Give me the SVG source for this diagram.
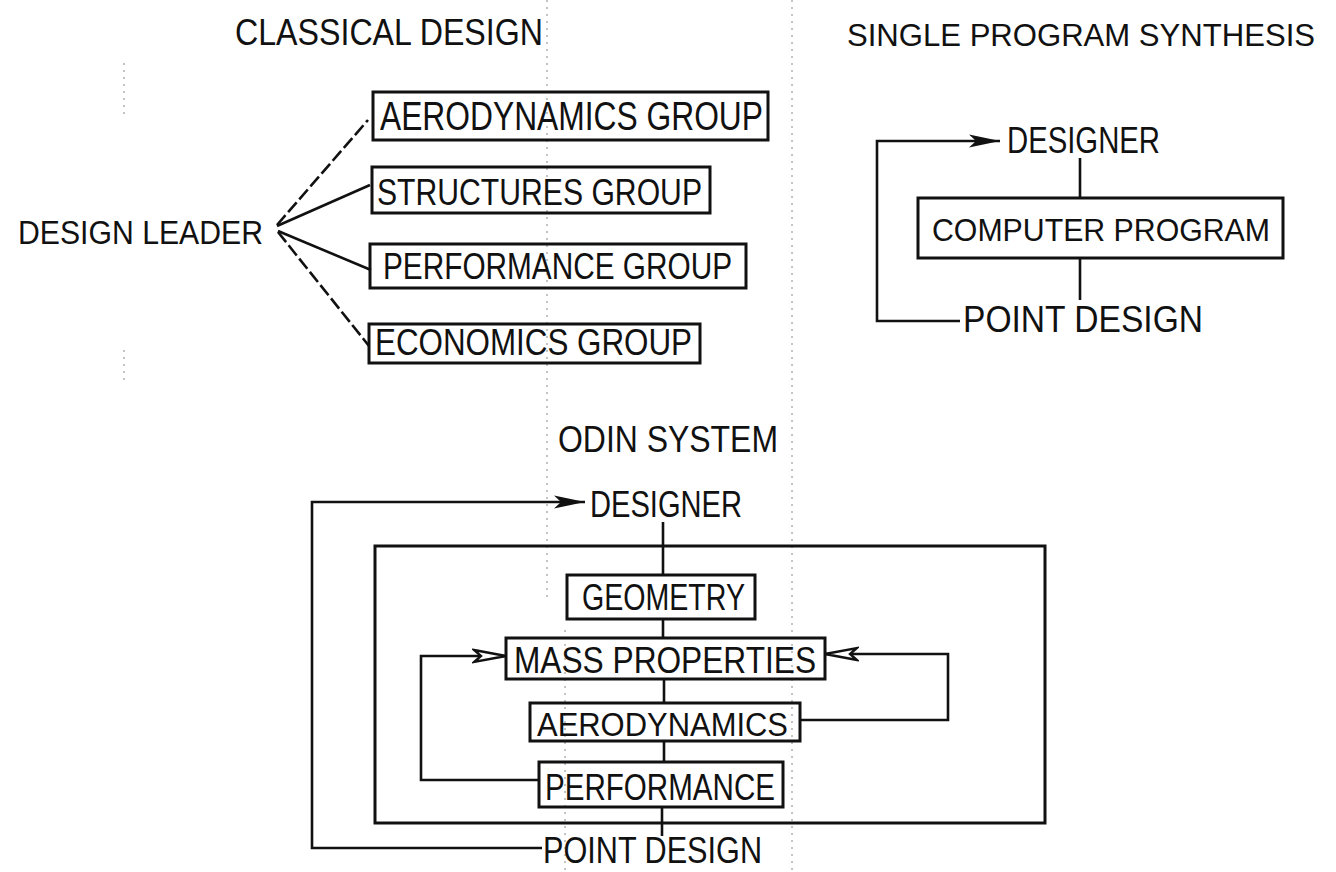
<svg xmlns="http://www.w3.org/2000/svg" width="1336" height="872" viewBox="0 0 1336 872">
<style>
  text { font-family: "Liberation Sans", "DejaVu Sans", Arial, sans-serif; fill: #111; }
  .lbl { font-size: 37px; }
  .sm { font-size: 34px; }
  .box { fill: none; stroke: #111; stroke-width: 3; }
  .ln { fill: none; stroke: #111; stroke-width: 2.6; }
  .dash { stroke-dasharray: 13 4; }
  .scan { fill: none; stroke: #888; stroke-width: 1; stroke-dasharray: 2 5; }
</style>
<defs>
  <marker id="arrowFill" markerUnits="userSpaceOnUse" markerWidth="36" markerHeight="16" refX="32" refY="8" orient="auto">
    <path d="M1,1.5 L32,8 L1,14.5 L8,8 Z" fill="#111"/>
  </marker>
  <marker id="arrowOpen" markerUnits="userSpaceOnUse" markerWidth="38" markerHeight="16" refX="34" refY="8" orient="auto">
    <path d="M2,2 L34,8 L2,14 L9,8 Z" fill="#fff" stroke="#111" stroke-width="2.4"/>
  </marker>
</defs>
<rect width="1336" height="872" fill="#fff"/>

<g id="scan-marks">
  <line class="scan" x1="547" y1="0" x2="547" y2="600"/>
  <line class="scan" x1="565" y1="630" x2="565" y2="872"/>
  <line class="scan" x1="792" y1="0" x2="792" y2="870"/>
  <line class="scan" x1="124" y1="63" x2="124" y2="117"/>
  <line class="scan" x1="124" y1="350" x2="124" y2="380"/>
</g>

<g id="titles">
  <text class="lbl" x="235" y="45" textLength="308" lengthAdjust="spacingAndGlyphs">CLASSICAL DESIGN</text>
  <text x="847" y="46" font-size="32" textLength="468" lengthAdjust="spacingAndGlyphs">SINGLE PROGRAM SYNTHESIS</text>
  <text class="lbl" x="558" y="452" textLength="220" lengthAdjust="spacingAndGlyphs">ODIN SYSTEM</text>
</g>

<g id="connectors">
  <path class="ln dash" d="M277,225 L368,120"/>
  <path class="ln" d="M277,226 L370,185"/>
  <path class="ln" d="M278,231 L371,270"/>
  <path class="ln dash" d="M278,232 L369,346"/>

  <path class="ln" d="M960,321 H877 V141 H1000" marker-end="url(#arrowFill)"/>
  <path class="ln" d="M1080,158 V198"/>
  <path class="ln" d="M1080,258 V300"/>

  <path class="ln" d="M542,848 H312 V502 H585" marker-end="url(#arrowFill)"/>
  <path class="ln" d="M663,522 V575"/>
  <path class="ln" d="M663,619 V638"/>
  <path class="ln" d="M664,679 V703"/>
  <path class="ln" d="M664,741 V762"/>
  <path class="ln" d="M662,807 V836"/>
  <path class="ln" d="M539,780 H421 V656 H506" marker-end="url(#arrowOpen)"/>
  <path class="ln" d="M800,720 H948 V654 H825" marker-end="url(#arrowOpen)"/>
</g>

<g id="design-leader">
  <text class="sm" x="18" y="244" textLength="245" lengthAdjust="spacingAndGlyphs">DESIGN LEADER</text>
</g>
<g id="aerodynamics-group">
  <rect class="box" x="373" y="92" width="395" height="48"/>
  <text x="380" y="130" font-size="40" textLength="383" lengthAdjust="spacingAndGlyphs">AERODYNAMICS GROUP</text>
</g>
<g id="structures-group">
  <rect class="box" x="372" y="167" width="338" height="46"/>
  <text class="lbl" x="377" y="205" textLength="325" lengthAdjust="spacingAndGlyphs">STRUCTURES GROUP</text>
</g>
<g id="performance-group">
  <rect class="box" x="370" y="244" width="376" height="44"/>
  <text class="lbl" x="383" y="279" textLength="349" lengthAdjust="spacingAndGlyphs">PERFORMANCE GROUP</text>
</g>
<g id="economics-group">
  <rect class="box" x="369" y="324" width="331" height="39"/>
  <text class="lbl" x="375" y="355" textLength="317" lengthAdjust="spacingAndGlyphs">ECONOMICS GROUP</text>
</g>

<g id="sps-designer">
  <text class="lbl" x="1007" y="153" textLength="153" lengthAdjust="spacingAndGlyphs">DESIGNER</text>
</g>
<g id="computer-program">
  <rect class="box" x="918" y="198" width="365" height="60"/>
  <text x="932" y="241" font-size="31" textLength="338" lengthAdjust="spacingAndGlyphs">COMPUTER PROGRAM</text>
</g>
<g id="sps-point-design">
  <text class="lbl" x="963" y="332" textLength="240" lengthAdjust="spacingAndGlyphs">POINT DESIGN</text>
</g>

<g id="odin-designer">
  <text class="lbl" x="590" y="517" textLength="152" lengthAdjust="spacingAndGlyphs">DESIGNER</text>
</g>
<g id="odin-system-box">
  <rect class="box" x="375" y="546" width="670" height="277"/>
</g>
<g id="geometry">
  <rect class="box" x="567" y="575" width="188" height="44"/>
  <text class="lbl" x="582" y="610" textLength="163" lengthAdjust="spacingAndGlyphs">GEOMETRY</text>
</g>
<g id="mass-properties">
  <rect class="box" x="506" y="638" width="319" height="41"/>
  <text class="lbl" x="514" y="673" textLength="302" lengthAdjust="spacingAndGlyphs">MASS PROPERTIES</text>
</g>
<g id="aerodynamics">
  <rect class="box" x="530" y="703" width="270" height="38"/>
  <text class="sm" x="537" y="736" textLength="251" lengthAdjust="spacingAndGlyphs">AERODYNAMICS</text>
</g>
<g id="performance">
  <rect class="box" x="539" y="762" width="244" height="45"/>
  <text class="lbl" x="545" y="800" textLength="230" lengthAdjust="spacingAndGlyphs">PERFORMANCE</text>
</g>
<g id="odin-point-design">
  <text class="lbl" x="543" y="863" textLength="219" lengthAdjust="spacingAndGlyphs">POINT DESIGN</text>
</g>
</svg>
